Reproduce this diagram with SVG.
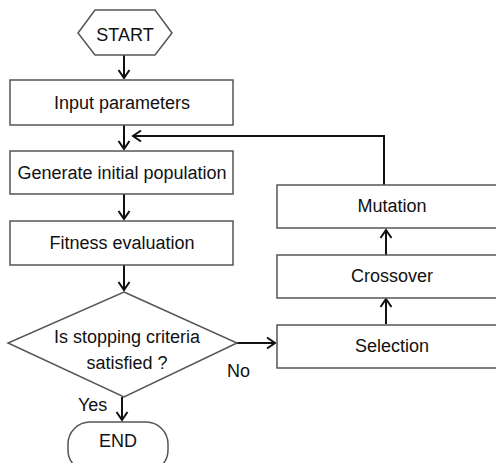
<svg xmlns="http://www.w3.org/2000/svg" width="496" height="463" viewBox="0 0 496 463">
<style>
.box{fill:#fff;stroke:#555;stroke-width:1.5}
.lbl{font-family:"Liberation Sans",Arial,sans-serif;font-size:18px;fill:#111;text-anchor:middle}
.side{font-family:"Liberation Sans",Arial,sans-serif;font-size:18px;fill:#111}
.arr{fill:none;stroke:#111;stroke-width:2;marker-end:url(#ah)}
</style>
<defs>
<marker id="ah" markerUnits="userSpaceOnUse" markerWidth="14" markerHeight="14" viewBox="-10 -7 12 14" refX="0" refY="0" orient="auto">
<path d="M-8,-5.5 L0,0 L-8,5.5" fill="none" stroke="#111" stroke-width="2"/>
</marker>
</defs>
<rect width="496" height="463" fill="#fff"/>
<g id="connectors">
<path class="arr" d="M124,55 V78"/>
<path class="arr" d="M124,125 V149"/>
<path class="arr" d="M124,194 V219"/>
<path class="arr" d="M124,265 V290"/>
<path class="arr" d="M122,397 V420"/>
<path class="arr" d="M237,343 H275"/>
<path class="arr" d="M386,324 V299"/>
<path class="arr" d="M386,255 V230"/>
<path class="arr" d="M384,185 V136 H133"/>
</g>
<g id="start">
<polygon class="box" points="78,33 95,10 155,10 172,33 155,55 95,55"/>
<text class="lbl" x="125" y="41">START</text>
</g>
<g id="input">
<rect class="box" x="10" y="80" width="223" height="45"/>
<text class="lbl" x="122" y="109">Input parameters</text>
</g>
<g id="generate">
<rect class="box" x="10" y="151" width="223" height="43"/>
<text class="lbl" x="122" y="179">Generate initial population</text>
</g>
<g id="fitness">
<rect class="box" x="10" y="221" width="223" height="44"/>
<text class="lbl" x="122" y="249">Fitness evaluation</text>
</g>
<g id="decision">
<polygon class="box" points="124,292 237,343 124,397 8,343"/>
<text class="lbl" x="127" y="343">Is stopping criteria</text>
<text class="lbl" x="127" y="369">satisfied ?</text>
</g>
<g id="end">
<rect class="box" x="68" y="422" width="100" height="50" rx="22" ry="22"/>
<text class="lbl" x="118" y="447">END</text>
</g>
<g id="selection">
<rect class="box" x="277" y="325" width="230" height="43"/>
<text class="lbl" x="392" y="352">Selection</text>
</g>
<g id="crossover">
<rect class="box" x="277" y="255" width="230" height="43"/>
<text class="lbl" x="392" y="282">Crossover</text>
</g>
<g id="mutation">
<rect class="box" x="277" y="185" width="230" height="43"/>
<text class="lbl" x="392" y="212">Mutation</text>
</g>
<g id="labels">
<text class="side" x="78" y="411">Yes</text>
<text class="side" x="227" y="377">No</text>
</g>
</svg>
